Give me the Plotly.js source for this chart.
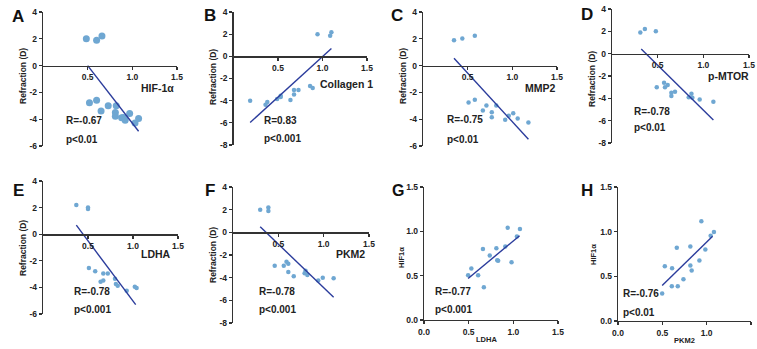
<!DOCTYPE html>
<html><head><meta charset="utf-8">
<script src="https://cdn.plot.ly/plotly-3.0.1.min.js"></script>
<style>html,body{margin:0;padding:0;background:#fff}#chart{width:757px;height:349px}</style>
</head><body><div id="chart"></div>
<script>
// ---------- data ----------
const aX = [0.485,0.60,0.66,0.52,0.60,0.65,0.73,0.82,0.81,0.81,0.90,0.92,0.97,1.03,1.07,0.88];
const aY = [2.0,1.9,2.2,-2.78,-2.58,-3.38,-3.0,-3.0,-3.5,-3.78,-3.88,-4.08,-3.58,-4.28,-3.95,-3.9];
const aFitX = [0.5,1.07], aFitY = [0.0,-4.9];

const bX = [0.944,1.086,1.10,0.187,0.36,0.38,0.49,0.53,0.53,0.64,0.68,0.68,0.73,0.86,0.89];
const bY = [2.0,1.85,2.18,-4.0,-4.36,-4.12,-3.85,-3.67,-3.55,-3.94,-3.45,-3.03,-3.03,-2.67,-2.85];
const bFitX = [0.187,1.10], bFitY = [-5.97,0.70];

const cX = [0.347,0.44,0.58,0.51,0.58,0.67,0.71,0.77,0.77,0.82,0.92,0.96,1.01,1.06,1.18];
const cY = [1.9,2.03,2.22,-2.75,-2.55,-3.35,-2.98,-3.48,-3.85,-2.98,-4.05,-3.75,-3.55,-3.95,-4.25];
const cFitX = [0.347,1.18], cFitY = [0.55,-5.5];

const dX = [0.31,0.36,0.48,0.49,0.57,0.58,0.61,0.65,0.65,0.69,0.84,0.87,0.88,0.96,1.11];
const dY = [1.9,2.2,2.0,-3.0,-2.6,-3.0,-2.8,-3.5,-3.8,-3.4,-3.9,-3.6,-3.95,-4.1,-4.3];
const dFitX = [0.32,1.11], dFitY = [0.42,-5.95];

const eX = [0.37,0.50,0.50,0.51,0.58,0.67,0.72,0.64,0.67,0.80,0.81,0.83,0.93,1.02,1.04];
const eY = [2.2,2.0,1.9,-2.55,-2.78,-2.95,-2.95,-3.58,-3.48,-3.35,-3.75,-3.88,-4.25,-3.95,-4.05];
const eFitX = [0.37,1.03], eFitY = [0.68,-5.3];

const fX = [0.30,0.39,0.39,0.46,0.56,0.59,0.61,0.61,0.67,0.80,0.79,0.82,0.94,0.99,1.11];
const fY = [2.0,2.2,1.88,-2.94,-2.94,-2.6,-2.78,-3.5,-3.88,-3.4,-3.6,-3.76,-4.26,-4.0,-4.06];
const fFitX = [0.30,1.11], fFitY = [0.5,-5.73];

const gX = [0.494,0.53,0.606,0.66,0.67,0.736,0.81,0.82,0.83,0.91,0.937,0.98,1.04,1.074];
const gY = [0.506,0.58,0.506,0.80,0.37,0.728,0.81,0.675,0.668,0.83,1.04,0.65,0.943,1.026];
const gFitX = [0.494,1.07], gFitY = [0.468,0.951];

const hX = [0.498,0.528,0.61,0.607,0.663,0.674,0.738,0.816,0.816,0.831,0.918,0.94,0.985,1.045,1.082];
const hY = [0.307,0.614,0.59,0.39,0.82,0.39,0.468,0.835,0.62,0.565,0.678,1.116,0.80,0.955,0.996];
const hFitX = [0.498,1.067], hFitY = [0.397,0.948];

const refrTicks6 = [4,2,0,-2,-4,-6], refrLabels6 = ['4','2','0','-2','-4','-6'];
const refrTicks8 = [4,2,0,-2,-4,-6,-8], refrLabels8 = ['4','2','0','-2','-4','-6','-8'];
const xTicksCross = [0.5,1.0,1.5], xLabelsCross = ['0.5','1.0','1.5'];
const ticks015 = [0,0.5,1.0,1.5], labels015 = ['0.0','0.5','1.0','1.5'];

const panelLetters = ['A','B','C','D','E','F','G','H'];
const varNames = ['HIF-1α','Collagen 1','MMP2','p-MTOR','LDHA','PKM2','LDHA','PKM2'];
const rTexts = ['R=-0.67','R=0.83','R=-0.75','R=-0.78','R=-0.78','R=-0.78','R=-0.77','R=-0.76'];
const pTexts = ['p<0.01','p<0.001','p<0.01','p<0.01','p<0.001','p<0.001','p<0.001','p<0.01'];
const yTitles = ['Refraction (D)','Refraction (D)','Refraction (D)','Refraction (D)','Refraction (D)','Refraction (D)','HIF1α','HIF1α'];

// ---------- layout ----------
const W = 757, H = 349;
const FONT = 'Liberation Sans, Arial, sans-serif';
const PT = '#6fa7d2', LN = '#2b3c9c', AX = '#333333';
const fx = px => px / W, fy = py => 1 - py / H;

const panels = [
  {xs:aX,ys:aY,fx:aFitX,fy:aFitY,px:[43,177],py:[12,146],yr:[-6,4],yt:refrTicks6,yl:refrLabels6,cross:true,ms:7,
   letter:[18,16],yTitle:[23,76],vn:[157,88],r:[64,121],p:[64,139]},
  {xs:bX,ys:bY,fx:bFitX,fy:bFitY,px:[233.5,367],py:[12,145],yr:[-8,4],yt:refrTicks8,yl:refrLabels8,cross:true,ms:4.5,
   letter:[210,15],yTitle:[213,77],vn:[346,84],r:[262,121],p:[262,138]},
  {xs:cX,ys:cY,fx:cFitX,fy:cFitY,px:[423,557],py:[12,146],yr:[-6,4],yt:refrTicks6,yl:refrLabels6,cross:true,ms:4.5,
   letter:[397,15],yTitle:[403,76],vn:[540,88],r:[445,120],p:[445,139]},
  {xs:dX,ys:dY,fx:dFitX,fy:dFitY,px:[612,749],py:[9,143],yr:[-8,4],yt:refrTicks8,yl:refrLabels8,cross:true,ms:4.5,
   letter:[587,14],yTitle:[592,79],vn:[728,76],r:[632,111],p:[632,128]},
  {xs:eX,ys:eY,fx:eFitX,fy:eFitY,px:[43,178],py:[181,314],yr:[-6,4],yt:refrTicks6,yl:refrLabels6,cross:true,ms:4.5,
   letter:[18,190],yTitle:[23,248],vn:[156,254],r:[72,291],p:[72,309]},
  {xs:fX,ys:fY,fx:fFitX,fy:fFitY,px:[233,369],py:[187,323],yr:[-8,4],yt:refrTicks8,yl:refrLabels8,cross:true,ms:4.5,
   letter:[210,190],yTitle:[213,255],vn:[350,254],r:[257,291],p:[257,309]},
  {xs:gX,ys:gY,fx:gFitX,fy:gFitY,px:[424,558],py:[187,320],yr:[0,1.5],yt:ticks015,yl:labels015,cross:false,ms:4.5,
   letter:[398,190],yTitle:[401,258],vn:[486,339],r:[433,291],p:[433,309]},
  {xs:hX,ys:hY,fx:hFitX,fy:hFitY,px:[618,751],py:[187,321],yr:[0,1.5],yt:ticks015,yl:labels015,cross:false,ms:4.5,
   letter:[587,190],yTitle:[593,255],vn:[684,340],r:[621,293],p:[621,312]}
];

const layout = {
  width: W, height: H, margin:{l:0,r:0,t:0,b:0},
  paper_bgcolor:'#fff', plot_bgcolor:'rgba(0,0,0,0)', showlegend:false,
  font:{family:FONT, color:'#222'}, annotations:[]
};
const traces = [];
const tickFont = {family:FONT, size:8.5, color:'#222', weight:'bold'};
const common = {showline:true, linecolor:AX, linewidth:1.3, ticks:'outside', ticklen:3, tickwidth:1.2,
  tickcolor:AX, showgrid:false, zeroline:false, tickfont:tickFont, fixedrange:true};

panels.forEach((p, i) => {
  const n = i + 1, xa = 'xaxis' + (n===1?'':n), ya = 'yaxis' + (n===1?'':n);
  const xr = 'x' + (n===1?'':n), yr = 'y' + (n===1?'':n);
  const zeroPy = p.py[0] + (p.yr[1] - 0) / (p.yr[1] - p.yr[0]) * (p.py[1] - p.py[0]);
  layout[xa] = Object.assign({}, common, {
    domain:[fx(p.px[0]), fx(p.px[1])], range:[0,1.5],
    tickvals: p.cross ? xTicksCross : ticks015, ticktext: p.cross ? xLabelsCross : labels015,
    anchor: p.cross ? 'free' : yr
  });
  if (p.cross) layout[xa].position = fy(zeroPy);
  layout[ya] = Object.assign({}, common, {
    domain:[fy(p.py[1]), fy(p.py[0])], range:p.yr, tickvals:p.yt, ticktext:p.yl, anchor:xr
  });
  traces.push({type:'scatter', mode:'markers', x:p.xs, y:p.ys, xaxis:xr, yaxis:yr,
    marker:{color:PT, size:p.ms, line:{width:0}}, cliponaxis:false});
  traces.push({type:'scatter', mode:'lines', x:p.fx, y:p.fy, xaxis:xr, yaxis:yr,
    line:{color:LN, width:1.4}});
  const A = layout.annotations;
  A.push({xref:'paper',yref:'paper',x:fx(p.letter[0]),y:fy(p.letter[1]),text:panelLetters[i],showarrow:false,
    xanchor:'center',yanchor:'middle',font:{family:FONT,size:i===6?16:17,color:'#111',weight:'bold'}});
  A.push({xref:'paper',yref:'paper',x:fx(p.yTitle[0]),y:fy(p.yTitle[1]),text:yTitles[i],showarrow:false,textangle:-90,
    xanchor:'center',yanchor:'middle',font:{family:FONT,size:p.cross?8.5:7.5,color:'#222',weight:'bold'}});
  A.push({xref:'paper',yref:'paper',x:fx(p.vn[0]),y:fy(p.vn[1]),text:varNames[i],showarrow:false,
    xanchor:'center',yanchor:'middle',font:{family:FONT,size:p.cross?10.5:7.5,color:'#222',weight:'bold'}});
  A.push({xref:'paper',yref:'paper',x:fx(p.r[0]),y:fy(p.r[1]),text:rTexts[i],showarrow:false,
    xanchor:'left',yanchor:'middle',font:{family:FONT,size:10,color:'#222',weight:'bold'}});
  A.push({xref:'paper',yref:'paper',x:fx(p.p[0]),y:fy(p.p[1]),text:pTexts[i],showarrow:false,
    xanchor:'left',yanchor:'middle',font:{family:FONT,size:10,color:'#222',weight:'bold'}});
});

Plotly.newPlot('chart', traces, layout, {staticPlot:true, displayModeBar:false});
</script>
</body></html>
